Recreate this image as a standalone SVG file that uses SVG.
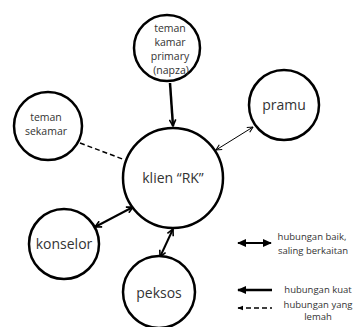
<svg xmlns="http://www.w3.org/2000/svg" width="358" height="327" viewBox="0 0 358 327">
<style>
.node{fill:#fff;stroke:#000;stroke-width:2.5}
.t{font-family:"Open Sans","Liberation Sans",sans-serif;fill:#333;text-anchor:middle}
.s{font-size:10.5px}
.m{font-size:14px}
.l{font-size:9.5px}
.c{stroke:#000;fill:none}
</style>
<defs>
<marker id="chev" viewBox="0 0 10 10" refX="9" refY="5" markerWidth="8" markerHeight="8" markerUnits="userSpaceOnUse" orient="auto-start-reverse">
<path d="M1,1 L9,5 L1,9" fill="none" stroke="#000" stroke-width="2"/>
</marker>
<marker id="chevs" viewBox="0 0 10 10" refX="9" refY="5" markerWidth="7" markerHeight="7" markerUnits="userSpaceOnUse" orient="auto-start-reverse">
<path d="M1,1 L9,5 L1,9" fill="none" stroke="#000" stroke-width="1.5"/>
</marker>
<marker id="tri" viewBox="0 0 10 10" refX="9" refY="5" markerWidth="9" markerHeight="9" markerUnits="userSpaceOnUse" orient="auto-start-reverse">
<path d="M0,0.5 L10,5 L0,9.5 Z" fill="#000"/>
</marker>
<marker id="tris" viewBox="0 0 10 10" refX="9" refY="5" markerWidth="6" markerHeight="6" markerUnits="userSpaceOnUse" orient="auto-start-reverse">
<path d="M0,1 L10,5 L0,9 Z" fill="#000"/>
</marker>
</defs>
<g id="connectors">
<line class="c" x1="170" y1="83" x2="173" y2="126" stroke-width="2.5" marker-end="url(#chev)"/>
<line class="c" x1="80" y1="143" x2="125" y2="160" stroke-width="1.5" stroke-dasharray="5,3"/>
<line class="c" x1="216" y1="150" x2="253" y2="127" stroke-width="1" marker-start="url(#chevs)" marker-end="url(#chevs)"/>
<line class="c" x1="95" y1="227" x2="133" y2="207" stroke-width="2" marker-start="url(#chev)" marker-end="url(#chev)"/>
<line class="c" x1="160" y1="257" x2="173" y2="229" stroke-width="2" marker-start="url(#chev)" marker-end="url(#chev)"/>
</g>
<g id="klien"><circle class="node" cx="173" cy="178" r="50" stroke-width="3"/><text class="t m" x="173" y="183">klien “RK”</text></g>
<g id="teman-kamar-primary"><circle class="node" cx="167" cy="48" r="33"/>
<text class="t s" x="170" y="32">teman</text><text class="t s" x="170" y="46">kamar</text><text class="t s" x="170" y="60">primary</text><text class="t s" x="171" y="74">(napza)</text></g>
<g id="teman-sekamar"><circle class="node" cx="48" cy="126" r="34"/>
<text class="t s" x="46" y="121">teman</text><text class="t s" x="46" y="135">sekamar</text></g>
<g id="pramu"><circle class="node" cx="284" cy="105" r="35"/><text class="t m" x="284" y="110">pramu</text></g>
<g id="konselor"><circle class="node" cx="64" cy="244" r="35"/><text class="t m" x="64" y="249">konselor</text></g>
<g id="peksos"><circle class="node" cx="159" cy="292" r="36"/><text class="t m" x="159" y="298">peksos</text></g>
<g id="legend">
<line class="c" x1="238" y1="243" x2="271" y2="243" stroke-width="2" marker-start="url(#tri)" marker-end="url(#tri)"/>
<text class="t l" x="312" y="240">hubungan baik,</text><text class="t l" x="313" y="254">saling berkaitan</text>
<line class="c" x1="238" y1="290" x2="272" y2="290" stroke-width="2.5" marker-start="url(#tri)"/>
<text class="t l" x="318" y="293">hubungan kuat</text>
<line class="c" x1="238" y1="308" x2="272" y2="308" stroke-width="1.5" stroke-dasharray="5,3" marker-start="url(#tris)"/>
<text class="t l" x="318" y="308">hubungan yang</text><text class="t l" x="318" y="320">lemah</text>
</g>
</svg>
